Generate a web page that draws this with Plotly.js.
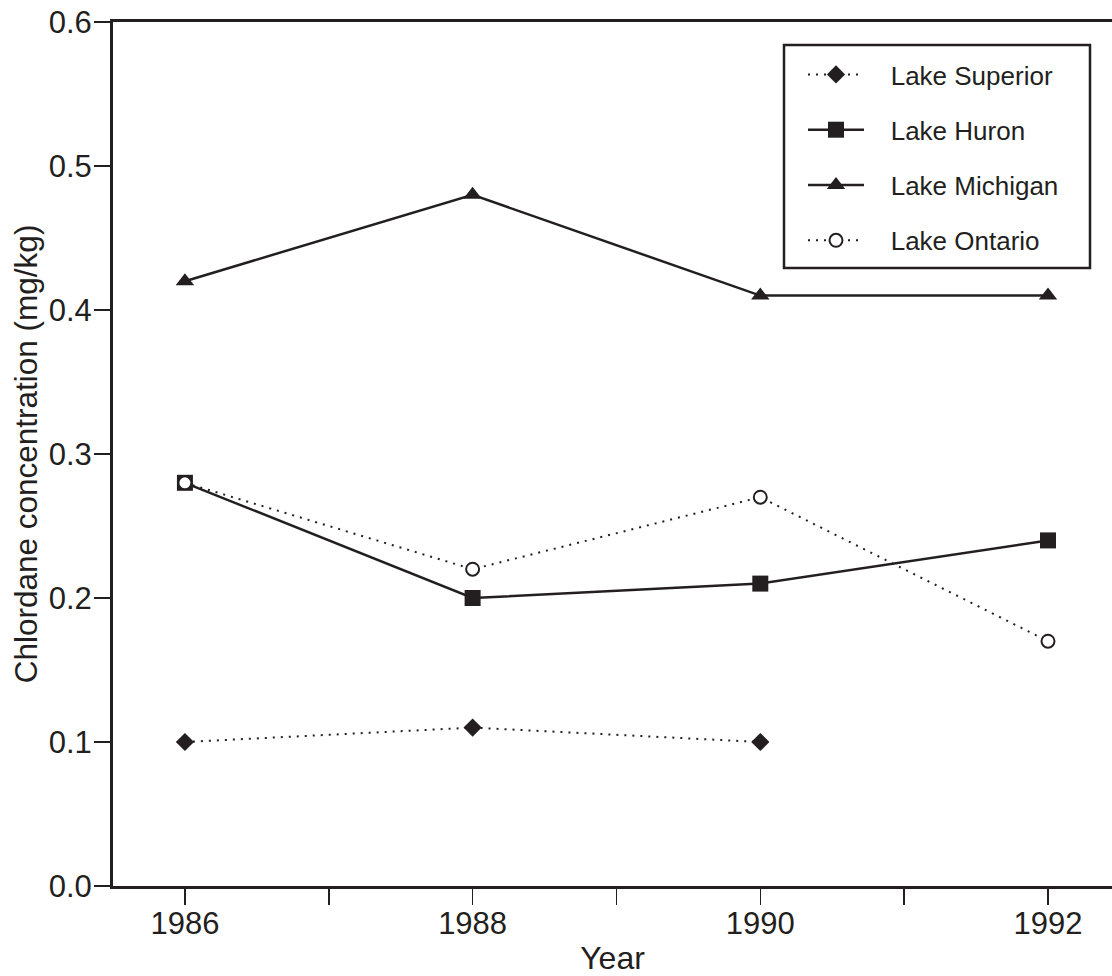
<!DOCTYPE html>
<html>
<head>
<meta charset="utf-8">
<script src="https://cdn.plot.ly/plotly-3.0.1.min.js"></script>
<style>html,body{margin:0;padding:0;background:#fff;}#chart{width:1112px;height:976px;}</style>
</head>
<body>
<div id="chart"></div>
<script>
const years = [1986, 1988, 1990, 1992];
const superiorYears = [1986, 1988, 1990];
const superior = [0.10, 0.11, 0.10];
const huron = [0.28, 0.20, 0.21, 0.24];
const michigan = [0.42, 0.48, 0.41, 0.41];
const ontario = [0.28, 0.22, 0.27, 0.17];
const seriesNames = ['Lake Superior', 'Lake Huron', 'Lake Michigan', 'Lake Ontario'];
const tickYears = [1986, 1987, 1988, 1989, 1990, 1991, 1992];
const tickLabels = ['1986', '', '1988', '', '1990', '', '1992'];
const yTicks = [0, 0.1, 0.2, 0.3, 0.4, 0.5, 0.6];
const yTickLabels = ['0.0', '0.1', '0.2', '0.3', '0.4', '0.5', '0.6'];

const ink = '#231f20';
const pad = '\u00a0\u00a0\u00a0';
const dotted = '2px,6px';
const traces = [
  {x: superiorYears, y: superior, name: pad + seriesNames[0], mode: 'lines+markers', legendgroup: 'a',
   line: {color: ink, width: 2, dash: dotted}, marker: {symbol: 'diamond', size: 14, color: ink}},
  {x: years, y: huron, name: pad + seriesNames[1], mode: 'lines+markers', legendgroup: 'b',
   line: {color: ink, width: 2.5}, marker: {symbol: 'square', size: 16, color: ink}},
  {x: years, y: michigan, name: pad + seriesNames[2], mode: 'lines+markers', legendgroup: 'c',
   line: {color: ink, width: 2.5}, marker: {symbol: 'triangle-up', size: 16, color: ink}},
  {x: years, y: ontario, name: pad + seriesNames[3], mode: 'lines+markers', legendgroup: 'd',
   line: {color: ink, width: 2, dash: dotted}, marker: {symbol: 'circle', size: 13, color: '#fff', line: {color: ink, width: 2}}}
];

// plot area in px: x 113..1112, y 22..886
const L = 113, R = 1112, T = 22, B = 886;
const px2x = p => (p - L) / (R - L);
const px2y = p => (B - p) / (B - T);

const layout = {
  width: 1112, height: 976,
  margin: {l: L, r: 1112 - R, t: T, b: 976 - B},
  paper_bgcolor: '#fff', plot_bgcolor: '#fff',
  font: {family: 'Liberation Sans, Arial, sans-serif', color: ink, size: 31},
  xaxis: {
    range: [1985.5, 1992.445], tickmode: 'array', tickvals: tickYears, ticktext: tickLabels,
    showgrid: false, zeroline: false, showline: true, linecolor: ink, linewidth: 3, mirror: true,
    ticks: 'outside', ticklen: 16, tickwidth: 1.5, tickcolor: ink,
    tickfont: {size: 31, color: ink}, ticklabelstandoff: -8,
    title: {text: 'Year', font: {size: 32, color: ink}, standoff: 8}
  },
  yaxis: {
    range: [0, 0.6], tickmode: 'array', tickvals: yTicks, ticktext: yTickLabels,
    showgrid: false, zeroline: false, showline: true, linecolor: ink, linewidth: 3,
    ticks: 'outside', ticklen: 16, tickwidth: 1.5, tickcolor: ink,
    tickfont: {size: 31, color: ink}, ticklabelstandoff: -4,
    title: {text: 'Chlordane concentration (mg/kg)', font: {size: 31.5, color: ink}, standoff: 2}
  },
  shapes: [{
    type: 'rect', xref: 'paper', yref: 'paper',
    x0: px2x(784), x1: px2x(1090), y0: px2y(268), y1: px2y(45),
    line: {color: ink, width: 2.5}, fillcolor: '#fff', layer: 'below'
  }],
  showlegend: true,
  legend: {
    x: px2x(803), y: px2y(51), xanchor: 'left', yanchor: 'top',
    borderwidth: 0, bgcolor: 'rgba(0,0,0,0)',
    font: {size: 26, color: ink}, tracegroupgap: 18.5, itemwidth: 56,
    traceorder: 'grouped'
  }
};

Plotly.newPlot('chart', traces, layout, {displayModeBar: false, staticPlot: true});
</script>
</body>
</html>
